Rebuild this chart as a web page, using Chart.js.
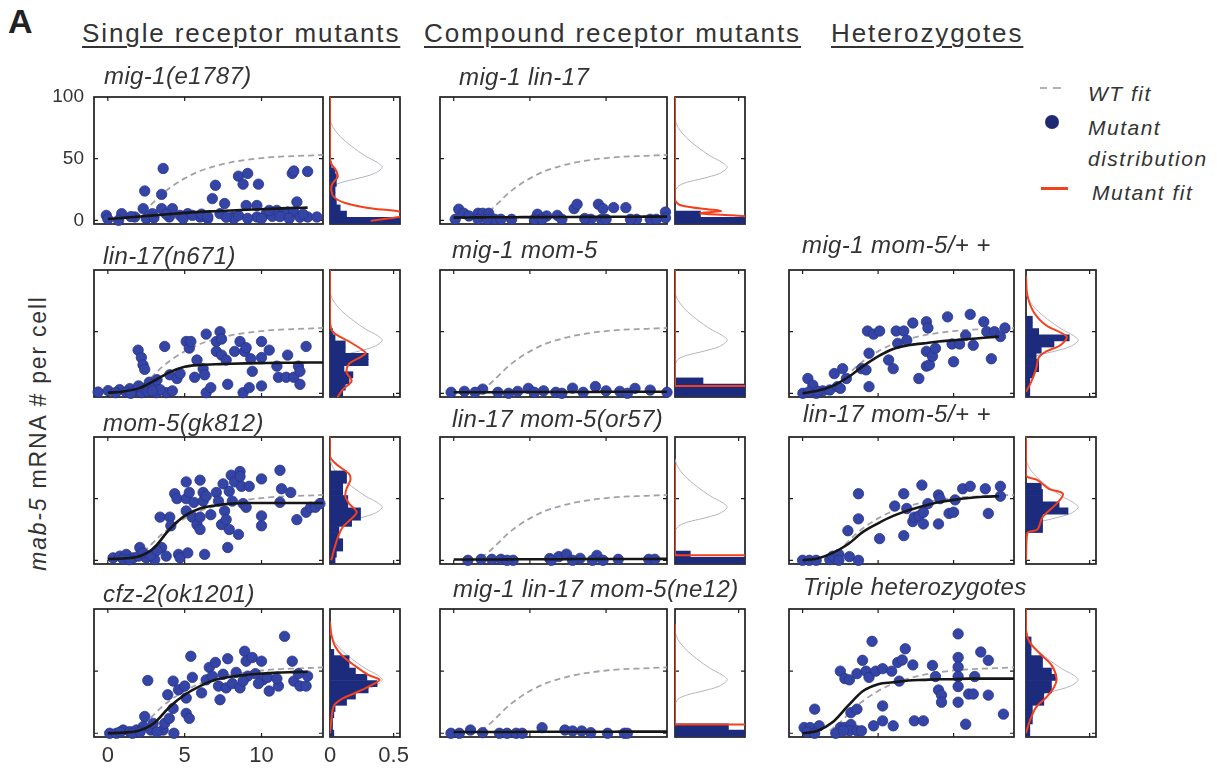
<!DOCTYPE html>
<html>
<head>
<meta charset="utf-8">
<title>mab-5 mRNA per cell</title>
<script src="https://cdn.jsdelivr.net/npm/chart.js@4.4.1/dist/chart.umd.min.js"></script>
<style>
  html, body { margin: 0; padding: 0; background: #fff; }
  #fig { position: relative; width: 1221px; height: 769px; overflow: hidden;
         font-family: "Liberation Sans", Arial, Helvetica, sans-serif; color: #333; }
  #fig canvas { position: absolute; }
  .txt { position: absolute; white-space: nowrap; line-height: 1; }
  .big-a { font-size: 34px; font-weight: bold; color: #222; }
  .head { font-size: 26px; letter-spacing: 1.9px; text-decoration: underline;
          text-decoration-thickness: 1.5px; text-underline-offset: 4px; }
  .ptitle { font-size: 24px; font-style: italic; letter-spacing: 0.4px; }
  .leg { font-size: 21px; font-style: italic; letter-spacing: 1.5px; }
  .ylab { font-size: 23px; letter-spacing: 1.8px; transform: translate(-50%, -50%) rotate(-90deg); }
  .mk { position: absolute; }
</style>
</head>
<body>
<div id="fig">
  <div class="txt big-a" style="left:8px;top:4px">A</div>
  <div class="txt head" style="left:82px;top:20px">Single receptor mutants</div>
  <div class="txt head" style="left:424px;top:20px">Compound receptor mutants</div>
  <div class="txt head" style="left:831px;top:20px">Heterozygotes</div>
  <div class="txt ylab" style="left:38px;top:433px"><i>mab-5</i> mRNA # per cell</div>

  <!-- legend -->
  <div class="mk" style="left:1040px;top:87px;width:7px;height:2px;background:#b4b0bc"></div>
  <div class="mk" style="left:1053px;top:87px;width:8px;height:2px;background:#b4b0bc"></div>
  <div class="txt leg" style="left:1088px;top:83px">WT fit</div>
  <div class="mk" style="left:1045px;top:115px;width:14px;height:14px;border-radius:50%;background:#1f2a72"></div>
  <div class="txt leg" style="left:1088px;top:117px">Mutant</div>
  <div class="txt leg" style="left:1088px;top:148px">distribution</div>
  <div class="mk" style="left:1041px;top:187px;width:27px;height:2.5px;background:#f4401c"></div>
  <div class="txt leg" style="left:1092px;top:182px">Mutant fit</div>
</div>

<script>
// ---- axes / shared ----
const xRange = [-0.9, 14];
const yRange = [-3, 100];
const histRange = [0, 0.55];
const xTicks = [0, 5, 10];
const yTicks = [0, 50, 100];
const histTicks = [0, 0.5];
const binCenters = [0, 5, 10, 15, 20, 25, 30, 35, 40, 45, 50, 55, 60, 65, 70, 75];
const fitX = [0, 1, 2, 3, 4, 5, 6, 7, 8, 9, 10, 11, 12, 13, 14];

// WT fit (grey dashed) and WT distribution (grey thin, histogram side)
const wtFitX = [1.8, 2.5, 3, 3.5, 4, 5, 6, 7, 8, 9, 10, 11, 12, 13, 14];
const wtFitY = [2, 9, 15, 21, 26, 34, 40, 44, 47, 49, 50.5, 51.5, 52, 52.5, 53];
const wtDist = [[0,82],[0.02,76],[0.08,68],[0.17,60],[0.28,52],[0.37,47],[0.41,43],[0.35,38],[0.22,34],[0.1,31],[0.03,28],[0,24]];

// ---- single receptor mutants ----
const mig1Pts = [[-0.1,4],[0.9,5.4],[1.75,2.7],[2.3,9.5],[2.4,23.8],[2.9,5.4],[3.6,42],[3.5,21],[3.5,9.5],[4,2.7],
  [4.2,9.5],[4.7,4],[5.2,5.4],[6,2.7],[6.5,1.4],[6.8,17.6],[7,28.4],[7.6,13.6],[7.3,5.4],[8.1,2.7],
  [8.2,1.4],[8.5,35.8],[8.8,29.3],[9.1,38],[9,12],[9.8,29.3],[9.7,12],[9.7,2.7],[10.3,5.4],[10.7,3.2],
  [11,8],[11.4,5.4],[11.7,6.7],[12,38],[12.1,40],[12.3,14.9],[13,39.6],[13,2.7],[13.6,2.7],[12.1,6.7],
  [0,1],[0.7,0],[1.5,3],[2.5,1.5],[3,2],[3.8,5],[4.9,1.5],[5.5,4],[6.1,5],[6.5,3],
  [7.7,2.5],[8.5,4],[9.1,1.5],[10,1.5],[10.5,8],[11.2,3],[11.8,1.5],[12.5,2.5],[12.7,5]];
const mig1Fit = [1, 2, 3, 4, 5, 6, 6.8, 7.4, 8, 8.5, 9, 9.5, 10, 10.3, null];
const mig1Hist = [0.6, 0.13, 0.08, 0.05, 0.04, 0.04, 0.05, 0.05, 0.04, 0.01];
const mig1Dist = [[0,100],[0,52],[0.01,46],[0.05,40],[0.06,35],[0.02,30],[0.01,25],[0.03,19],[0.12,14],[0.3,10],[0.55,7],[0.6,4],[0.32,-0.5]];

const lin17Pts = [[-0.63,1],[0.02,2.2],[0.77,3],[1.43,3.8],[1.97,35],[2.18,29],[2.29,23],[2.4,19.4],[2.5,4.6],[2.84,4.6],
  [3.05,7.3],[3.16,0.5],[3.8,0.5],[3.7,38],[4.03,15],[4.5,12],[4.7,16],[5.1,42],[5.3,36.6],[5.4,42],
  [5.65,13],[5.8,27],[6.2,20],[6.3,15],[6.4,48],[6.4,0.5],[6.7,4.6],[7.06,34],[7.3,50],[7.06,42],
  [7.4,31],[7.4,44],[7.7,27],[7.8,7.3],[8.25,34],[8.6,42],[8.8,0.5],[8.9,34],[9,37],[9.2,4.6],
  [9.3,28],[9.4,17.8],[10,42],[10,29],[10,6],[10.5,35],[11,22],[11.1,13],[11.6,13],[11.7,31],
  [12.1,13],[12.4,22],[12.5,7.3],[12.9,38],[12.5,17.8],[0.5,0.5],[1.2,1],[1.8,2],[2.2,0.5],[2.6,1.5],
  [3.4,3],[4.2,2],[2,6],[1.5,0],[2.7,9],[3.2,11],[2.9,2]];
const lin17Fit = [0.5, 1.5, 4, 10, 17, 21.5, 23, 23.5, 24, 24.3, 24.5, 24.7, 24.8, 25, 25];
const lin17Hist = [0.1, 0.12, 0.15, 0.18, 0.11, 0.3, 0.3, 0.12, 0.12, 0.04, 0.02];
const lin17Dist = [[0,100],[0,60],[0.02,50],[0.15,42],[0.28,33],[0.25,30],[0.15,24],[0.13,17],[0.17,10],[0.1,3],[0.06,-3]];

const mom5Pts = [[0.34,2],[0.78,3.4],[1.2,4.8],[1.65,2],[2.08,10.4],[2,3.4],[2.5,2],[3.05,0.6],[3.4,35],[3.5,10.4],
  [3.8,3.4],[4.03,35],[4.1,28],[4.35,54],[4.5,50],[4.6,4.8],[4.7,2],[5.1,63.6],[5.1,50],[5.1,40],
  [5.2,6],[5.3,55],[5.5,35],[5.8,29],[5.6,47],[6,65],[6,35],[6,25],[6.2,55],[6.2,48],
  [6.3,4.8],[6.4,52],[6.7,37],[7.06,55],[7.2,48],[7.4,29],[7.5,62],[7.6,40],[7.8,10.4],[7.7,33],
  [7.9,25],[7.9,56],[8.03,69],[8.1,48],[8.25,63.6],[8.5,21],[8.6,72],[8.6,68],[8.7,60],[8.8,46],
  [9,43],[9.2,60],[10,66],[10,36],[10,28],[11.2,73],[11.2,47],[11.3,58],[11.9,55],[12.3,33],
  [12.9,39],[13.2,43],[13.5,43],[13.8,46],[1,1],[1.4,0.5],[2.3,6],[2.8,4],[3.2,8]];
const mom5Fit = [1, 1.5, 3, 10, 25, 36, 42, 44.5, 46, 46.5, 46.5, 46.5, 46.5, 46.5, 46.5];
const mom5Hist = [0.04, 0.05, 0.1, 0.1, 0.07, 0.07, 0.17, 0.24, 0.24, 0.14, 0.14, 0.1, 0.1, 0.13, 0.13];
const mom5Dist = [[0,100],[0,84],[0.06,77],[0.15,70],[0.16,65],[0.13,58],[0.12,52],[0.15,46],[0.21,39],[0.16,33],[0.1,27],[0.06,18],[0.03,8],[0.01,0]];

const cfz2Pts = [[0.12,0],[0.56,0],[1,2.6],[1.43,1.3],[1.86,2.6],[2.3,5.4],[2.4,13.5],[2.6,42.5],[2.8,2.6],[2.95,8],
  [3.6,2.6],[3.7,8],[3.9,31],[4,12],[4.25,42],[4.25,20],[4.6,35],[5,38],[5.1,28.4],[5.1,16],
  [5.3,12],[5.4,62],[5.5,45],[6.1,32.5],[6.4,43],[6.6,53],[6.8,46],[7,57],[7.2,38],[7.3,27],
  [7.5,47.5],[7.7,36.5],[7.8,60],[8.1,40],[8.35,49],[8.6,36.5],[8.9,66],[9,58],[9.1,46],[9.4,61],
  [10,58],[10.1,43],[10.5,34],[11.1,38],[11.5,78],[12,58],[12.1,42],[12.5,38],[12.9,38],[13,46],
  [0.8,1],[1.6,0],[2.1,1],[3.2,1],[4.3,0],[9.6,48],[10.4,45],[11,44],[12.4,48],[8.8,42],[9.8,40]];
const cfz2Fit = [0, 0.5, 2, 8, 21, 31, 38, 43, 45.5, 47, 48, 48.8, 49.2, 49.5, null];
const cfz2Hist = [0.03, 0.02, 0.02, 0.03, 0.04, 0.13, 0.2, 0.3, 0.37, 0.29, 0.2, 0.15, 0.15, 0.03];
const cfz2Dist = [[0,90],[0.01,80],[0.04,70],[0.1,62],[0.2,54],[0.3,47],[0.39,43],[0.33,39],[0.21,33],[0.1,28],[0.03,22],[0.01,10],[0,0]];

// ---- compound receptor mutants ----
const mig1lin17Pts = [[0.33,9],[0.66,5.7],[0.1,0.8],[1,3.5],[1.6,5.7],[1.9,5.7],[2.3,5.7],[2.7,0.8],[3.1,0.8],[3.8,0.8],
  [5.5,4.9],[6.1,3.5],[6.8,4],[7.9,9.5],[8.1,13],[9,0.8],[9.5,13],[9.8,9.5],[10.5,10.3],[11.3,10.3],
  [12,0.8],[12.9,0.8],[13.9,6.7],[13.9,2],[1.6,0.8],[2.2,0.8],[5.3,0.8],[5.8,0.8],[7.1,0.8],[8.6,1.5],
  [9.7,0.8],[10,0.8],[11.6,0.8],[13.3,0.8]];
const mig1lin17Fit = [2.2, 2.3, 2.4, 2.5, 2.5, 2.6, 2.6, 2.7, 2.7, 2.8, 2.8, 2.9, 2.9, 3, 3];
const mig1lin17Hist = [0.6, 0.2];
const mig1lin17Dist = [[0,100],[0,17],[0.05,12],[0.3,8.5],[0.36,7.5],[0.2,5.7],[0.45,4],[0.6,3]];

const mig1mom5Pts = [[-0.17,0.8],[0.7,1.6],[1.9,3.4],[2.9,0.8],[4.2,1.6],[4.9,4],[5.9,2],[6.7,0.8],[7.8,4.2],[9.3,5.5],
  [10,2],[10.9,1.6],[11.9,4],[12.9,2.6],[14,0.8],[1.4,0.8],[3.6,0],[5.3,0.8],[7.1,0],[8.5,0.8],[11.4,0]];
const mig1mom5Fit = [0.8, 0.8, 0.9, 0.9, 1, 1, 1, 1.1, 1.1, 1.1, 1.2, 1.2, 1.2, 1.3, 1.3];
const mig1mom5Hist = [0.6, 0.6, 0.22];
const mig1mom5Dist = [[0,100],[0,6],[0.6,6]];

const lin17mom5Pts = [[0.93,0],[1.8,0.8],[2.5,0.8],[3.1,0.8],[3.9,0],[6.3,1.4],[6.9,3],[7.4,5],[8.3,1.6],[9.4,4],
  [10.8,0.8],[12.8,0.8],[13.2,0.8],[3.5,0],[6.4,0],[7.8,0],[9.1,0],[9.8,0]];
const lin17mom5Fit = [0.6, 0.6, 0.7, 0.7, 0.8, 0.8, 0.9, 0.9, 1, 1, 1, 1.1, 1.1, 1.1, 1.2];
const lin17mom5Hist = [0.6, 0.12];
const lin17mom5Dist = [[0,79],[0,4],[0.6,4]];

const tripleMutPts = [[-0.18,0],[0.37,0],[1.1,2.6],[1.9,0.5],[3,0],[3.5,0],[4.1,0],[4.5,0],[5.8,4.5],[7.3,2.6],
  [7.8,1.8],[8.4,1.8],[9,0.5],[10.1,0],[11.2,0],[11.4,0]];
const tripleMutFit = [1, 1, 1, 1, 1, 1.2, 1.2, 1.2, 1.2, 1.2, 1.2, 1.3, 1.3, 1.3, 1.3];
const tripleMutHist = [0.6, 0.42];
const tripleMutDist = [[0,88],[0,7],[0.6,7]];

// ---- heterozygotes ----
const mig1mom5HetPts = [[0.02,0],[0.35,12],[0.68,6.6],[0.9,0],[1.34,2],[1.8,2.7],[2.1,16],[2.65,20],[2.3,5.4],[2.5,4],
  [2.9,12],[3.9,20],[4.2,19],[4.4,5.4],[4.3,50.5],[4.4,32.5],[4.7,48],[5.1,50.5],[5.7,27],[6,20],
  [6.2,50.5],[6.7,50.5],[6.3,40.5],[6.9,43],[7.3,57],[7.7,12],[8.2,58],[8.3,53],[8.2,34],[8.2,22],
  [8.4,23],[8.6,30],[8.8,36.5],[9.6,62],[9.9,40],[10,25.6],[10.4,40],[10.8,47],[11.1,64],[11.3,39],
  [12,58],[12.5,28],[12.2,50],[12.7,50],[13.1,46],[13.4,53],[0.4,1],[1,1.5]];
const mig1mom5HetFit = [0, 2, 6, 13, 22, 30, 36, 39, 40.5, 42, 43, 44, 45, 46, null];
const mig1mom5HetHist = [0.03, 0.03, 0.03, 0.06, 0.1, 0.1, 0.08, 0.12, 0.22, 0.34, 0.1, 0.05, 0.05];
const mig1mom5HetDist = [[0,95],[0.01,80],[0.06,66],[0.16,55],[0.32,46],[0.27,39],[0.16,34],[0.1,29],[0.08,20],[0.04,9],[0,1]];

const lin17mom5HetPts = [[0,0],[0.45,0],[0.9,0],[1.8,0.6],[2,3.3],[2.4,4.7],[2.4,0],[3,24],[3.1,3],[3.7,54],
  [3.7,33.6],[3.7,0],[5.1,17.6],[6.1,44],[6.7,54],[6.7,20],[6.9,42],[7.3,31.4],[7.4,35],[7.7,36],
  [7.9,61],[8,39],[8,29.5],[8.3,46],[9,29.5],[9,53],[9.1,50],[9.7,38],[10,39],[10.1,49],
  [10.6,58],[11.1,60],[12.1,58],[12.3,38],[13.1,60],[13.1,52]];
const lin17mom5HetFit = [0, 1.5, 6, 13, 23, 30, 36, 40.5, 44, 47, 49, 50.5, 51.5, 52, null];
const lin17mom5HetHist = [0, 0, 0, 0, 0, 0.13, 0.13, 0.13, 0.33, 0.26, 0.13, 0.13, 0.12];
const lin17mom5HetDist = [[0,100],[0,69],[0.09,65],[0.18,58],[0.29,54],[0.25,47],[0.13,35],[0.09,25],[0.01,22],[0,0]];

const tripleHetPts = [[0.1,4.6],[0.5,4.6],[0.8,19.4],[1.1,6],[2.5,50],[2.8,44],[3.1,43],[2.5,4.6],[2.8,4.6],[3.2,7],
  [3.2,16.6],[3.1,2],[3.6,48],[3.6,19.4],[3.6,2],[3.97,58.7],[4.2,50],[4.4,45],[4.6,74],[4.7,6],
  [4.85,50],[5.3,52],[5.3,22],[5.3,10],[5.9,50],[6,6],[6.3,57],[6.4,42],[6.6,59],[6.8,68],
  [7.3,55],[7.4,10],[8,10],[8.6,54.6],[8.8,45.7],[9,34.8],[9.2,30.7],[9.2,25],[10.3,80],[10.3,61],
  [10.3,53.4],[10.3,45.7],[10.3,37.6],[10.3,25],[10.8,7.3],[11,31.6],[11.3,31.6],[11.4,45.7],[11.8,65.4],[12.3,58.7],
  [12.3,30.7],[13.3,15.4],[0.3,1],[0.8,0],[2.2,0],[2.7,2],[3.9,2]];
const tripleHetFit = [0, 2, 9, 22, 34, 39.5, 41, 42.5, 43, 43.5, 43.5, 44, 44, 44, 44];
const tripleHetHist = [0.03, 0.03, 0.05, 0.05, 0.05, 0.14, 0.14, 0.2, 0.2, 0.24, 0.2, 0.13, 0.13, 0.04, 0.04, 0.04];
const tripleHetDist = [[0,100],[0,83],[0.03,73],[0.11,64],[0.2,55],[0.24,44],[0.22,37],[0.16,29],[0.08,21],[0.03,10],[0,0]];

const panels = [
  {col: 0, row: 0, title: 'mig-1(e1787)', pts: mig1Pts, fit: mig1Fit, hist: mig1Hist, dist: mig1Dist},
  {col: 0, row: 1, title: 'lin-17(n671)', pts: lin17Pts, fit: lin17Fit, hist: lin17Hist, dist: lin17Dist},
  {col: 0, row: 2, title: 'mom-5(gk812)', pts: mom5Pts, fit: mom5Fit, hist: mom5Hist, dist: mom5Dist},
  {col: 0, row: 3, title: 'cfz-2(ok1201)', pts: cfz2Pts, fit: cfz2Fit, hist: cfz2Hist, dist: cfz2Dist},
  {col: 1, row: 0, title: 'mig-1 lin-17', pts: mig1lin17Pts, fit: mig1lin17Fit, hist: mig1lin17Hist, dist: mig1lin17Dist},
  {col: 1, row: 1, title: 'mig-1 mom-5', pts: mig1mom5Pts, fit: mig1mom5Fit, hist: mig1mom5Hist, dist: mig1mom5Dist},
  {col: 1, row: 2, title: 'lin-17 mom-5(or57)', pts: lin17mom5Pts, fit: lin17mom5Fit, hist: lin17mom5Hist, dist: lin17mom5Dist},
  {col: 1, row: 3, title: 'mig-1 lin-17 mom-5(ne12)', pts: tripleMutPts, fit: tripleMutFit, hist: tripleMutHist, dist: tripleMutDist},
  {col: 2, row: 1, title: 'mig-1 mom-5/+ +', pts: mig1mom5HetPts, fit: mig1mom5HetFit, hist: mig1mom5HetHist, dist: mig1mom5HetDist},
  {col: 2, row: 2, title: 'lin-17 mom-5/+ +', pts: lin17mom5HetPts, fit: lin17mom5HetFit, hist: lin17mom5HetHist, dist: lin17mom5HetDist},
  {col: 2, row: 3, title: 'Triple heterozygotes', pts: tripleHetPts, fit: tripleHetFit, hist: tripleHetHist, dist: tripleHetDist},
];

// ---- layout (px) ----
const PAD = 12;
const colLeft = [94, 440, 789];
const colWidth = [229, 227, 225];
const histLeft = [330, 675, 1026];
const histWidth = [70, 70, 70];
const rowTop = [97, 270, 437, 609];
const rowHeight = [127, 127, 127, 128];
// title baselines, same order as panels
const titleSpots = [[104, 83.5], [103, 263.5], [103, 431], [103, 601.5], [459, 85], [452, 258.3],
  [452, 426.7], [453, 596.7], [802, 252.7], [803, 422], [803, 595]];

const fig = document.getElementById('fig');
Chart.defaults.font.family = '"Liberation Sans", Arial, Helvetica, sans-serif';
Chart.defaults.color = '#333';

// box + inward ticks, drawn under the data
const framePlugin = {
  id: 'frame',
  beforeDatasetsDraw(chart, args, opts) {
    const {ctx, chartArea: a} = chart;
    const sx = chart.scales.x, sy = chart.scales.y;
    ctx.save();
    ctx.strokeStyle = '#1e1e1e';
    ctx.lineWidth = 1.7;
    ctx.strokeRect(a.left, a.top, a.right - a.left, a.bottom - a.top);
    ctx.lineWidth = 1.2;
    ctx.beginPath();
    (opts.xt || []).forEach(v => {
      const px = sx.getPixelForValue(v);
      if (px <= a.left + 1 || px >= a.right - 1) return;
      ctx.moveTo(px, a.top); ctx.lineTo(px, a.top + 4);
      ctx.moveTo(px, a.bottom); ctx.lineTo(px, a.bottom - 4);
    });
    (opts.yt || []).forEach(v => {
      const py = sy.getPixelForValue(v);
      if (py <= a.top + 1 || py >= a.bottom - 1) return;
      ctx.moveTo(a.left, py); ctx.lineTo(a.left + 4, py);
      ctx.moveTo(a.right, py); ctx.lineTo(a.right - 4, py);
    });
    ctx.stroke();
    ctx.restore();
  }
};

function axis(range, ticksAt, showLabels, size, isX) {
  return {
    type: 'linear', min: range[0], max: range[1], offset: false,
    grid: {display: false, drawTicks: false, offset: false},
    border: {display: false},
    ticks: {display: showLabels, padding: isX ? 6 : 10, autoSkip: false, maxRotation: 0,
            font: {size: isX ? 22 : 19}, callback: v => String(v)},
    afterBuildTicks: s => { s.ticks = ticksAt.map(v => ({value: v})); },
    afterFit: s => {
      if (isX) s.height = size; else s.width = size;
      s.paddingTop = 0; s.paddingBottom = 0; s.paddingLeft = 0; s.paddingRight = 0;
    }
  };
}

function addCanvas(left, top, w, h) {
  const cv = document.createElement('canvas');
  cv.width = w; cv.height = h;
  Object.assign(cv.style, {left: left + 'px', top: top + 'px', width: w + 'px', height: h + 'px'});
  fig.appendChild(cv);
  return cv;
}

const baseOpts = {
  responsive: false, animation: false, devicePixelRatio: 1,
  layout: {padding: PAD, autoPadding: false},
  events: [],
};

function drawScatter(p) {
  const yLab = p.col === 0 && p.row === 0;
  const xLab = p.col === 0 && p.row === 3;
  const yW = yLab ? 46 : 0, xH = xLab ? 32 : 0;
  const w = colWidth[p.col], h = rowHeight[p.row];
  const cv = addCanvas(colLeft[p.col] - PAD - yW, rowTop[p.row] - PAD, w + 2 * PAD + yW, h + 2 * PAD + xH);
  new Chart(cv, {
    type: 'scatter',
    data: {
      datasets: [
        {type: 'line', data: fitX.map((x, i) => ({x, y: p.fit[i]})).filter(d => d.y !== null),
         borderColor: '#161616', borderWidth: 2.6, pointRadius: 0, cubicInterpolationMode: 'monotone', order: 0},
        {data: p.pts.map(([x, y]) => ({x, y})), pointRadius: 5.2, backgroundColor: '#3545a6',
         borderColor: '#27338a', borderWidth: 0.8, clip: PAD - 2, order: 1},
        {type: 'line', data: wtFitX.map((x, i) => ({x, y: wtFitY[i]})), borderColor: '#a4a0aa',
         borderWidth: 1.8, borderDash: [6, 4], pointRadius: 0, cubicInterpolationMode: 'monotone', order: 2}
      ]
    },
    options: Object.assign({}, baseOpts, {
      plugins: {legend: {display: false}, tooltip: {enabled: false}, frame: {xt: xTicks, yt: yTicks}},
      scales: {x: axis(xRange, xTicks, xLab, xH, true), y: axis(yRange, yTicks, yLab, yW, false)}
    }),
    plugins: [framePlugin]
  });
}

function drawHist(p) {
  const xLab = p.col === 0 && p.row === 3;
  const xH = xLab ? 32 : 0;
  const w = histWidth[p.col], h = rowHeight[p.row];
  const cv = addCanvas(histLeft[p.col] - PAD, rowTop[p.row] - PAD, w + 2 * PAD, h + 2 * PAD + xH);
  new Chart(cv, {
    type: 'bar',
    data: {
      datasets: [
        {type: 'line', data: p.dist.map(([x, y]) => ({x, y})), borderColor: '#f4401c', borderWidth: 2,
         pointRadius: 0, tension: p.dist.length > 4 ? 0.3 : 0, clip: 0, order: 0},
        {data: p.hist.map((v, i) => ({x: v, y: binCenters[i]})), backgroundColor: '#1d2b7d',
         barPercentage: 1, categoryPercentage: 1, clip: 0, order: 1},
        {type: 'line', data: wtDist.map(([x, y]) => ({x, y})), borderColor: '#b4b2bc', borderWidth: 1,
         pointRadius: 0, tension: 0.3, clip: 0, order: 2}
      ]
    },
    options: Object.assign({}, baseOpts, {
      indexAxis: 'y',
      plugins: {legend: {display: false}, tooltip: {enabled: false}, frame: {xt: [0.5], yt: yTicks}},
      scales: {x: axis(histRange, histTicks, xLab, xH, true), y: axis(yRange, yTicks, false, 0, false)}
    }),
    plugins: [framePlugin]
  });
}

panels.forEach((p, i) => {
  drawScatter(p);
  drawHist(p);
  const t = document.createElement('div');
  t.className = 'txt ptitle';
  t.textContent = p.title;
  t.style.left = titleSpots[i][0] + 'px';
  t.style.top = (titleSpots[i][1] - 19.9) + 'px';
  fig.appendChild(t);
});
</script>
</body>
</html>
